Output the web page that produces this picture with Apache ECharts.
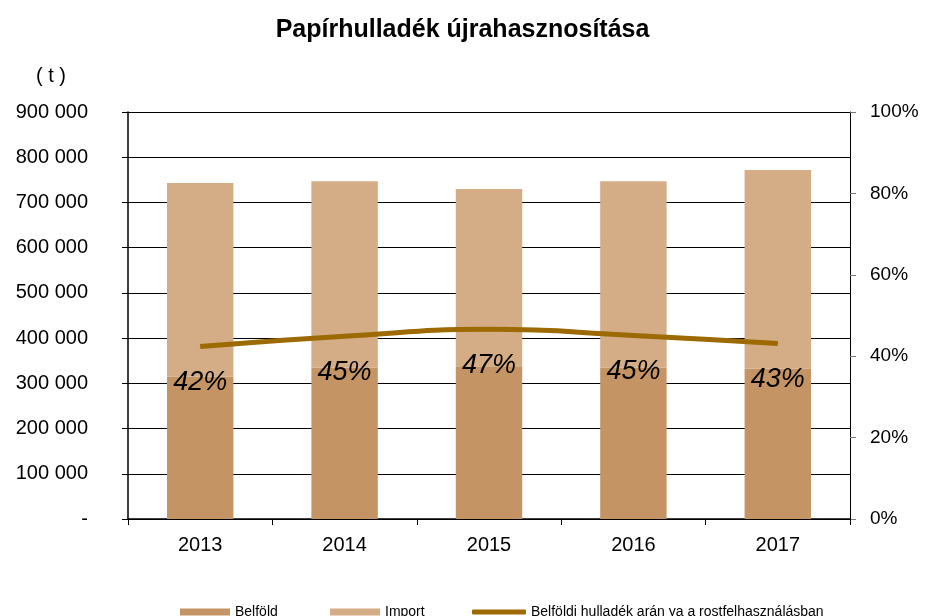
<!DOCTYPE html>
<html>
<head>
<meta charset="utf-8">
<script src="https://cdn.jsdelivr.net/npm/echarts@6/dist/echarts.min.js"></script>
<style>
  html, body { margin: 0; padding: 0; background: #fff; }
  #main { width: 925px; height: 616px; }
</style>
</head>
<body>
<div id="main"></div>
<script>
// adatok
var years = ['2013', '2014', '2015', '2016', '2017'];
var belfold = [315000, 335000, 338000, 335000, 333000];
var importVals = [428000, 412000, 392000, 412000, 439000];
var arany = [42.4, 44.9, 46.6, 45.1, 43.1];

var chartDom = document.getElementById('main');
var myChart = echarts.init(chartDom);
var option;

function ezres(v) {
  if (v === 0) return '-';
  return String(v).replace(/\B(?=(\d{3})+(?!\d))/g, ' ');
}

var font = 'Liberation Sans, Arial, sans-serif';
var legendText = { fontFamily: font, fontSize: 14, color: '#000' };

option = {
  animation: false,
  title: {
    text: 'Papírhulladék újrahasznosítása',
    left: 'center',
    top: 13,
    textStyle: { fontFamily: font, fontSize: 25, fontWeight: 'bold', color: '#000' }
  },
  graphic: [{
    type: 'text',
    left: 36,
    top: 66,
    style: { text: '( t )', font: '20px ' + font, fill: '#000' }
  }],
  legend: [
    { data: ['Belföld'], left: 175, top: 600, itemWidth: 50, itemHeight: 7, icon: 'rect', textStyle: legendText },
    { data: ['Import'], left: 325, top: 600, itemWidth: 50, itemHeight: 7, icon: 'rect', textStyle: legendText },
    { data: ['Belföldi hulladék arán ya a rostfelhasználásban'], left: 467, top: 600, itemWidth: 54, itemHeight: 5, icon: 'roundRect', textStyle: legendText }
  ],
  grid: { left: 128, right: 75, top: 112, bottom: 97 },
  xAxis: {
    type: 'category',
    data: years,
    axisLine: { lineStyle: { color: '#000', width: 1.5 } },
    axisTick: { show: true, length: 6, lineStyle: { color: '#000' } },
    axisLabel: { fontFamily: font, fontSize: 20, color: '#000', margin: 16 }
  },
  yAxis: [
    {
      type: 'value',
      min: 0,
      max: 900000,
      interval: 100000,
      axisLine: { show: true, lineStyle: { color: '#000', width: 1.5 } },
      axisTick: { show: true, length: 6, lineStyle: { color: '#000' } },
      splitLine: { lineStyle: { color: '#000', width: 1 } },
      axisLabel: { fontFamily: font, fontSize: 20, color: '#000', margin: 40, formatter: ezres }
    },
    {
      type: 'value',
      min: 0,
      max: 100,
      interval: 20,
      position: 'right',
      axisLine: { show: true, lineStyle: { color: '#000', width: 1 } },
      axisTick: { show: true, length: 6, lineStyle: { color: '#777' } },
      splitLine: { show: false },
      axisLabel: { fontFamily: font, fontSize: 19, color: '#000', margin: 20, formatter: '{value}%' }
    }
  ],
  series: [
    {
      name: 'Belföld',
      type: 'bar',
      stack: 'ossz',
      barWidth: '46%',
      itemStyle: { color: '#C49464' },
      data: belfold
    },
    {
      name: 'Import',
      type: 'bar',
      stack: 'ossz',
      itemStyle: { color: '#D4AC86' },
      data: importVals
    },
    {
      name: 'Belföldi hulladék arán ya a rostfelhasználásban',
      type: 'line',
      yAxisIndex: 1,
      smooth: true,
      symbol: 'circle',
      symbolSize: 1,
      showSymbol: true,
      lineStyle: { color: '#9C6A00', width: 5 },
      itemStyle: { color: '#9C6A00' },
      label: {
        show: true,
        position: 'bottom',
        distance: 22,
        fontFamily: font,
        fontSize: 27,
        fontStyle: 'italic',
        color: '#000',
        formatter: function (p) { return Math.round(p.value) + '%'; }
      },
      data: arany
    }
  ]
};

option && myChart.setOption(option);
</script>
</body>
</html>
